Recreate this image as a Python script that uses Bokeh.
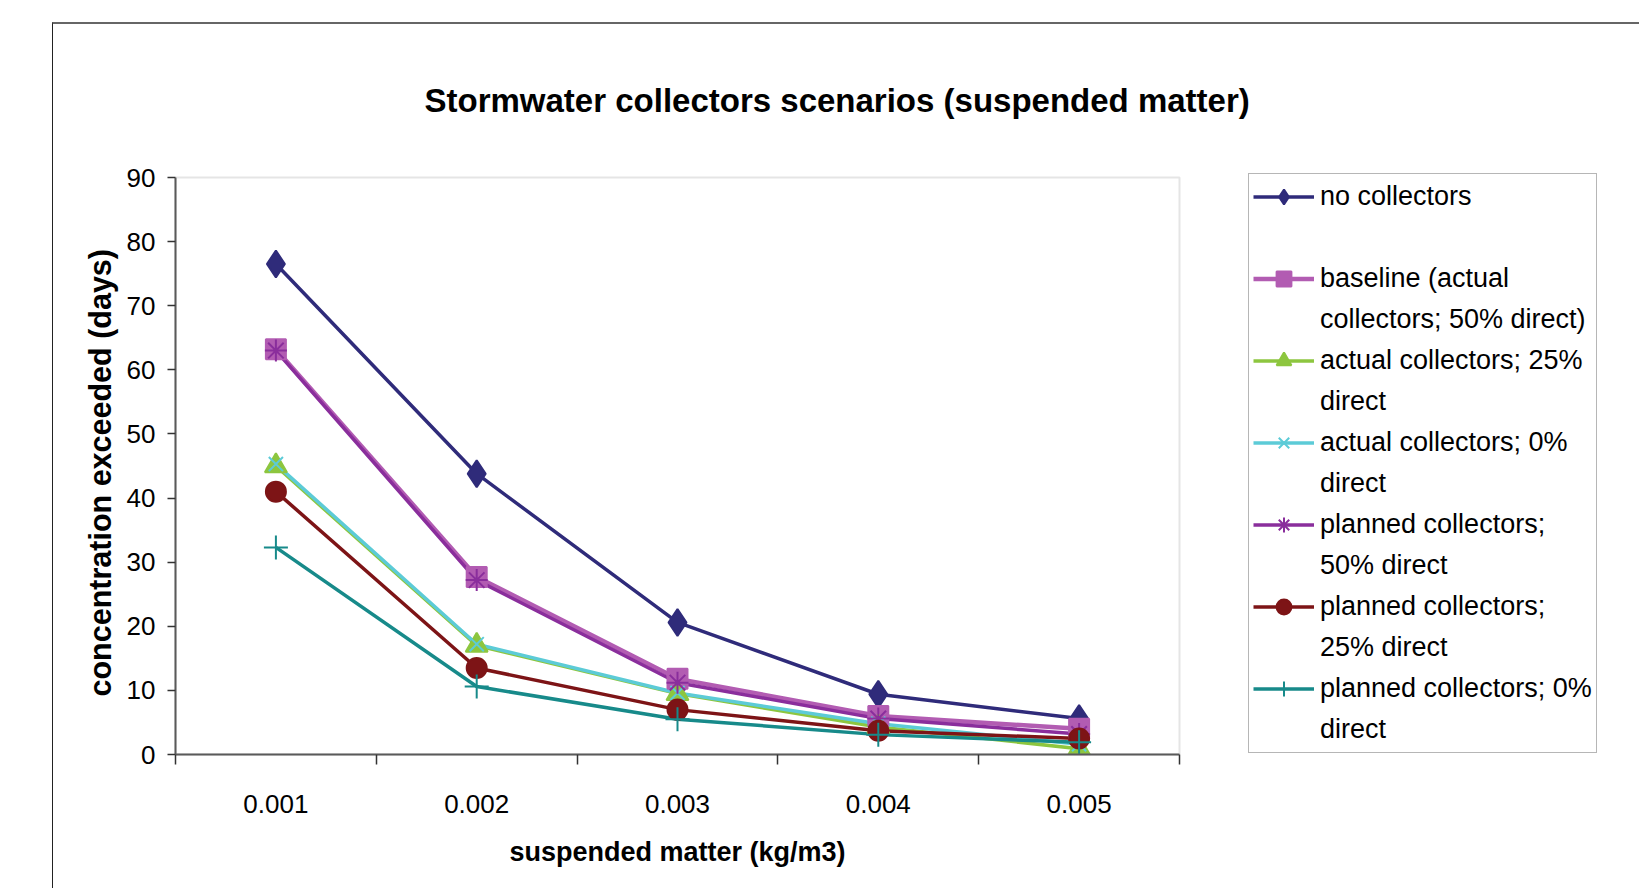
from bokeh.plotting import figure
from bokeh.models import FixedTicker, Legend, LegendItem, Range1d, BoxAnnotation, Title
from bokeh.embed import file_html
from bokeh.resources import INLINE

# ---- data -------------------------------------------------------------
categories = ["0.001", "0.002", "0.003", "0.004", "0.005"]
x_pos = [1, 2, 3, 4, 5]
y_ticks = [0, 10, 20, 30, 40, 50, 60, 70, 80, 90]

no_collectors = [76.5, 43.8, 20.6, 9.4, 5.6]
baseline = [63.2, 27.7, 11.8, 6.0, 4.0]
actual_25 = [45.0, 17.0, 9.5, 4.3, 0.9]
actual_0 = [45.3, 17.2, 9.6, 4.8, 1.6]
planned_50 = [63.0, 27.2, 11.2, 5.6, 3.2]
planned_25 = [41.0, 13.5, 7.0, 3.7, 2.5]
planned_0 = [32.3, 10.6, 5.5, 3.1, 1.9]

series_labels = [
    ["no collectors", " "],
    ["baseline (actual", "collectors; 50% direct)"],
    ["actual collectors; 25%", "direct"],
    ["actual collectors; 0%", "direct"],
    ["planned collectors;", "50% direct"],
    ["planned collectors;", "25% direct"],
    ["planned collectors; 0%", "direct"],
]

title_text = "Stormwater collectors scenarios (suspended matter)"
x_title = "suspended matter (kg/m3)"
y_title = "concentration exceeded (days)"

# ---- styles / geometry --------------------------------------------------
FONT = "Liberation Sans"
series = [
    (no_collectors, "#2f2b7a", "diamond", 27, 3.5),
    (baseline, "#b25cb2", "square", 20, 4.5),
    (actual_25, "#8dc63f", "triangle", 22, 3.5),
    (actual_0, "#5ccbd7", "x", 20, 3.5),
    (planned_50, "#8a2e9c", "asterisk", 22, 3.5),
    (planned_25, "#7d1416", "circle", 20, 3.5),
    (planned_0, "#178a8a", "cross", 24, 3.5),
]

OX, OY = 53, 24                    # figure origin inside the outer chart border
W, H = 1640 - OX, 890 - OY
PL, PR, PT, PB = 175, 1179, 177, 754   # plot-area box (page px)
FT, FR = 165, 1625                     # frame extends up/right to hold the legend
x0, x1 = x_pos[0] - 0.5, x_pos[-1] + 0.5
y0, y1 = y_ticks[0], y_ticks[-1]
px_per_x = (PR - PL) / (x1 - x0)
px_per_y = (PB - PT) / (y1 - y0)

p = figure(width=W, height=H, output_backend="svg", toolbar_location=None,
           x_range=Range1d(x0, x1 + (FR - PR) / px_per_x),
           y_range=Range1d(y0, y1 + (PT - FT) / px_per_y),
           min_border_left=PL - OX, min_border_right=(1640 - FR),
           min_border_top=FT - OY, min_border_bottom=890 - PB,
           background_fill_color="white", border_fill_color="white",
           outline_line_color=None,
           margin=(22, 0, 0, 52),
           styles={"border-top": "2px solid #666666", "border-left": "1px solid #222222"})
p.xgrid.visible = False
p.ygrid.visible = False

# plot-area border (top / right edges in light grey)
p.add_layout(BoxAnnotation(left=x0, right=x1, bottom=y0, top=y1,
                           fill_alpha=0, line_color="#a8a8a8", line_width=2))

p.title.text = title_text
p.title.text_font = FONT
p.title.text_font_style = "bold"
p.title.text_font_size = "33px"
p.title.text_color = "black"
p.title.align = "left"
p.title.offset = 424 - PL
p.title.standoff = 94

# x axis: labels at category centres, tick marks on category boundaries
xa = p.xaxis[0]
xa.bounds = (x0, x1)
xa.ticker = FixedTicker(ticks=x_pos, minor_ticks=[v - 0.5 for v in x_pos] + [x_pos[-1] + 0.5])
xa.major_label_overrides = {v: c for v, c in zip(x_pos, categories)}
xa.major_tick_out = 0
xa.major_tick_in = 0
xa.minor_tick_out = 10
xa.minor_tick_in = 0
xa.minor_tick_line_color = "#333333"
xa.minor_tick_line_width = 1.5
xa.axis_line_color = "#4d4d4d"
xa.axis_line_width = 2
xa.major_label_standoff = 30
xa.major_label_text_font = FONT
xa.major_label_text_font_size = "26px"
xa.major_label_text_color = "black"

ya = p.yaxis[0]
ya.bounds = (y0, y1)
ya.ticker = FixedTicker(ticks=y_ticks, minor_ticks=[])
ya.major_tick_out = 8
ya.major_tick_in = 0
ya.major_tick_line_color = "#333333"
ya.major_tick_line_width = 1.5
ya.axis_line_color = "#4d4d4d"
ya.axis_line_width = 2
ya.major_label_standoff = 12
ya.major_label_text_font = FONT
ya.major_label_text_font_size = "26px"
ya.major_label_text_color = "black"

# axis titles, centred on the plot area (not the wider frame)
p.add_layout(Title(text=x_title, align="left", offset=509 - PL, standoff=38,
                   text_font=FONT, text_font_style="bold", text_font_size="27px",
                   text_color="black"), "below")
p.add_layout(Title(text=y_title, align="left", offset=PB - 696, standoff=14,
                   text_font=FONT, text_font_style="bold", text_font_size="30.5px",
                   text_color="black"), "left")

# lines first, then markers (Excel style)
line_rs = []
for vals, color, marker, size, lw in series:
    line_rs.append(p.line(x_pos, vals, line_color=color, line_width=lw))
mark_rs = []
for vals, color, marker, size, lw in series:
    mark_rs.append(p.scatter(x_pos, vals, marker=marker, size=size,
                             fill_color=color, line_color=color, line_width=2))

blank = p.line([], [], line_alpha=0)

items = []
for (l1, l2), lr, mr in zip(series_labels, line_rs, mark_rs):
    items.append(LegendItem(label=l1, renderers=[lr, mr]))
    items.append(LegendItem(label=l2, renderers=[blank]))

legend = Legend(items=items, location=(1248 - PL, 1),
                orientation="vertical", padding=4, spacing=4, margin=0,
                glyph_width=61, glyph_height=37, label_height=37,
                label_width=255, label_standoff=6,
                label_text_font=FONT, label_text_font_size="27px",
                label_text_color="black", label_text_baseline="middle",
                border_line_color="#6e6e6e", border_line_width=1.5,
                background_fill_color="white", background_fill_alpha=1.0)
p.add_layout(legend, "center")

open("out.html", "w").write(file_html(p, INLINE))
